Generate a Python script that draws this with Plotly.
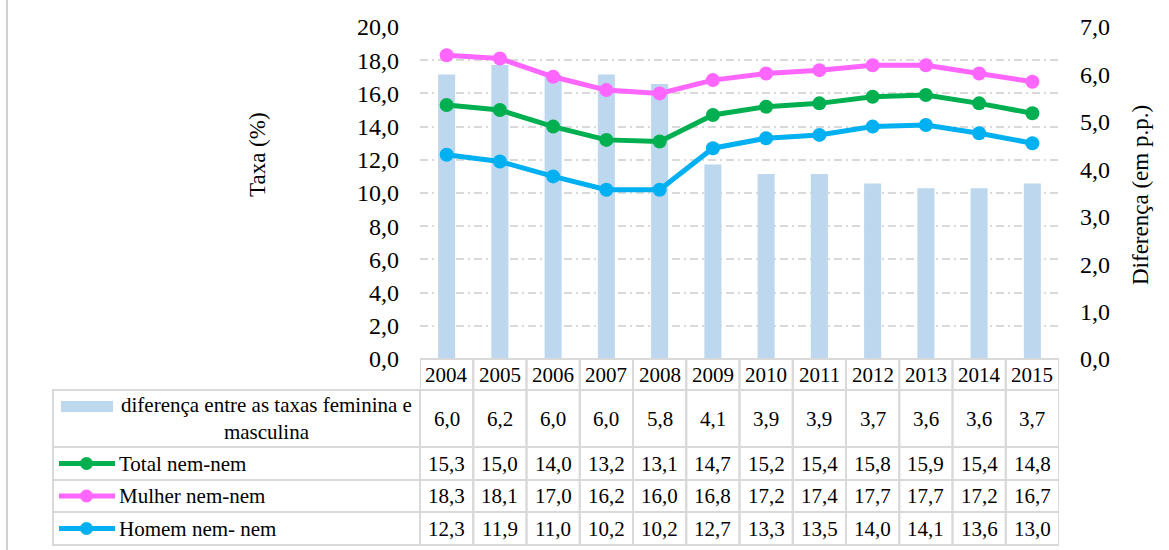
import plotly.graph_objects as go

# dados
anos = list(range(2004, 2016))
diferenca = [6.0, 6.2, 6.0, 6.0, 5.8, 4.1, 3.9, 3.9, 3.7, 3.6, 3.6, 3.7]
total = [15.3, 15.0, 14.0, 13.2, 13.1, 14.7, 15.2, 15.4, 15.8, 15.9, 15.4, 14.8]
mulher = [18.3, 18.1, 17.0, 16.2, 16.0, 16.8, 17.2, 17.4, 17.7, 17.7, 17.2, 16.7]
homem = [12.3, 11.9, 11.0, 10.2, 10.2, 12.7, 13.3, 13.5, 14.0, 14.1, 13.6, 13.0]

nome_bar = 'diferença entre as taxas feminina e<br>masculina'
nomes_linhas = ['Total nem-nem', 'Mulher nem-nem', 'Homem nem- nem']
series_linhas = [total, mulher, homem]
cores_linhas = ['#00B050', '#FF66FF', '#00B0F0']
cor_bar = '#BDD7EE'

FONT = 'Liberation Serif'
GRID = '#D9D9D9'

# pixel -> paper helpers
W, H = 1169, 550
L, R, T, B = 420, 1059, 27, 359


def px(x):
    return (x - L) / (R - L)


def py(y):
    return (B - y) / (B - T)


def fmt(v):
    return f'{v:.1f}'.replace('.', ',')


def txt(x, y, text, xref='paper', size=21, **kw):
    return dict(x=x, xref=xref, y=py(y), yref='paper', text=text,
                showarrow=False, yanchor='middle',
                font=dict(family=FONT, size=size, color='black'), **kw)


fig = go.Figure()

# barras no eixo principal (direita) para ficarem por baixo das linhas
fig.add_trace(go.Bar(
    x=anos, y=diferenca, yaxis='y', width=0.32,
    marker=dict(color=cor_bar, line=dict(width=0)),
    showlegend=False, name='diferença',
))

for nome, vals, cor in zip(nomes_linhas, series_linhas, cores_linhas):
    fig.add_trace(go.Scatter(
        x=anos, y=vals, yaxis='y2', mode='lines+markers',
        line=dict(color=cor, width=5),
        marker=dict(color=cor, size=14),
        showlegend=False, name=nome,
    ))

shapes = []
annotations = []

# tabela de dados (células como retângulos)
row_edges = [359, 390, 447, 480, 512, 545]
row_mid = [(row_edges[i] + row_edges[i + 1]) / 2 for i in range(5)]

for r in range(5):
    y0, y1 = py(row_edges[r]), py(row_edges[r + 1])
    if r > 0:
        shapes.append(dict(type='rect', xref='paper', yref='paper',
                           x0=px(53), x1=px(L), y0=y0, y1=y1,
                           line=dict(color=GRID, width=2)))
    for a in anos:
        shapes.append(dict(type='rect', xref='x', yref='paper',
                           x0=a - 0.5, x1=a + 0.5, y0=y0, y1=y1,
                           line=dict(color=GRID, width=2)))

linhas_tabela = [diferenca] + series_linhas
for a in anos:
    annotations.append(txt(a, row_mid[0], str(a), xref='x', xanchor='center'))
for r, vals in enumerate(linhas_tabela):
    for a, v in zip(anos, vals):
        annotations.append(txt(a, row_mid[r + 1], fmt(v), xref='x', xanchor='center'))

# chaves da legenda na tabela
shapes.append(dict(type='rect', xref='paper', yref='paper',
                   x0=px(61), x1=px(113), y0=py(401), y1=py(412),
                   fillcolor=cor_bar, line=dict(width=0)))
annotations.append(txt(px(266), row_mid[1], nome_bar, xanchor='center', align='center'))
for r, (nome, cor) in enumerate(zip(nomes_linhas, cores_linhas)):
    yc = row_mid[r + 2]
    shapes.append(dict(type='line', xref='paper', yref='paper',
                       x0=px(59), x1=px(115), y0=py(yc), y1=py(yc),
                       line=dict(color=cor, width=5)))
    shapes.append(dict(type='circle', xref='paper', yref='paper',
                       x0=px(80), x1=px(93), y0=py(yc - 6.5), y1=py(yc + 6.5),
                       fillcolor=cor, line=dict(width=0)))
    annotations.append(txt(px(117), yc, nome, xanchor='left'))

# títulos dos eixos
annotations.append(txt(px(257), 155, 'Taxa (%)', size=23, textangle=-90, xanchor='center'))
annotations.append(txt(px(1140), 195, 'Diferença (em p.p.)', size=23, textangle=-90,
                       xanchor='center'))

# borda cinza à esquerda da página
shapes.append(dict(type='rect', xref='paper', yref='paper',
                   x0=px(6), x1=px(8), y0=py(0), y1=py(H),
                   fillcolor='#D0D0D0', line=dict(width=0)))

fig.update_layout(
    width=W, height=H, autosize=False,
    margin=dict(l=L, r=W - R, t=T, b=H - B, pad=0),
    paper_bgcolor='white', plot_bgcolor='white',
    separators=',.',
    font=dict(family=FONT, size=22, color='black'),
    xaxis=dict(range=[anos[0] - 0.5, anos[-1] + 0.5], showticklabels=False,
               showgrid=False, zeroline=False, showline=False, ticks=''),
    yaxis=dict(side='right', range=[0, 7], dtick=1, tickformat='.1f',
               showgrid=False, zeroline=False, showline=False,
               ticklabelstandoff=20, tickfont=dict(family=FONT, size=24)),
    yaxis2=dict(side='left', overlaying='y', range=[0, 20], dtick=2,
                tickformat='.1f', showgrid=True, gridcolor=GRID, gridwidth=1.5,
                griddash='8px,4px,2px,4px', zeroline=False, showline=False,
                ticklabelstandoff=20, tickfont=dict(family=FONT, size=24)),
    shapes=shapes,
    annotations=annotations,
)

fig.write_html('out.html', config={'displayModeBar': False},
               post_script="document.body.style.margin='0';")
